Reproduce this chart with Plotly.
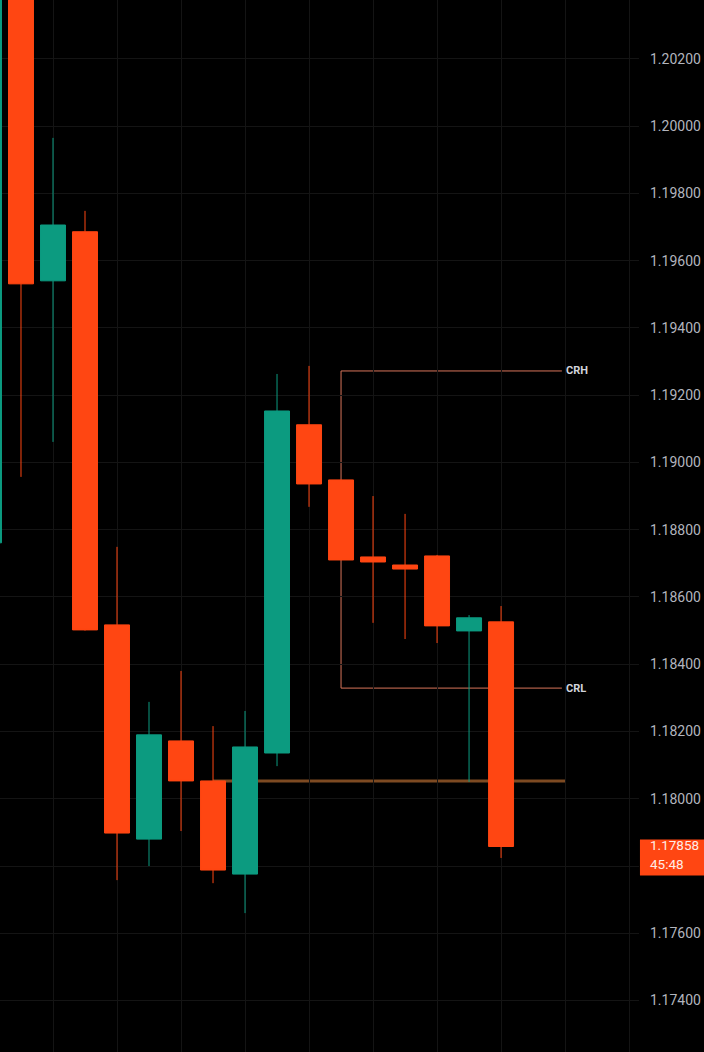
import plotly.graph_objects as go

# ---- data ----
idx   = [-1, 0, 1, 2, 3, 4, 5, 6, 7, 8, 9, 10, 11, 12, 13, 14, 15]
opens = [1.18761, 1.20600, 1.19540, 1.19686, 1.18517, 1.17880, 1.18172, 1.18053, 1.17776,
         1.18136, 1.19112, 1.18948, 1.18719, 1.18695, 1.18722, 1.18499, 1.18526]
highs = [1.20550, 1.20650, 1.19965, 1.19748, 1.18749, 1.18288, 1.18380, 1.18216, 1.18261,
         1.19263, 1.19287, 1.18948, 1.18900, 1.18847, 1.18725, 1.18546, 1.18573]
lows  = [1.18761, 1.18957, 1.19061, 1.18500, 1.17758, 1.17800, 1.17904, 1.17749, 1.17660,
         1.18097, 1.18868, 1.18710, 1.18523, 1.18475, 1.18463, 1.18050, 1.17824]
closes= [1.20500, 1.19531, 1.19706, 1.18502, 1.17898, 1.18190, 1.18053, 1.17788, 1.18154,
         1.19153, 1.18936, 1.18710, 1.18704, 1.18683, 1.18514, 1.18538, 1.17858]

tick_vals = [1.174, 1.176, 1.178, 1.180, 1.182, 1.184, 1.186, 1.188, 1.190,
             1.192, 1.194, 1.196, 1.198, 1.200, 1.202]
# the 1.17800 label is hidden behind the last-price tag in the reference
tick_text = ["" if abs(v - 1.178) < 1e-9 else f"{v:.5f}" for v in tick_vals]

crh_level = 1.19272
crl_level = 1.18329
box_start, box_end = 10, 16.9
hline_level = 1.18053
hline_start, hline_end = 6, 17
last_price = "1.17858"
countdown = "45:48"

RED = "#ff4612"
GREEN = "#0c9b80"

fig = go.Figure()
fig.add_trace(go.Candlestick(
    x=idx, open=opens, high=highs, low=lows, close=closes,
    increasing=dict(line=dict(color=GREEN, width=1), fillcolor=GREEN),
    decreasing=dict(line=dict(color=RED, width=1), fillcolor=RED),
    whiskerwidth=0, showlegend=False, hoverinfo="skip",
))

line_col = "#d8755a"
fig.add_shape(type="line", x0=box_start, x1=box_end, y0=crh_level, y1=crh_level,
              line=dict(color=line_col, width=1), layer="below")
fig.add_shape(type="line", x0=box_start, x1=box_start, y0=crh_level, y1=crl_level,
              line=dict(color=line_col, width=1), layer="below")
fig.add_shape(type="line", x0=box_start, x1=box_end, y0=crl_level, y1=crl_level,
              line=dict(color=line_col, width=1), layer="below")
fig.add_shape(type="line", x0=hline_start, x1=hline_end, y0=hline_level, y1=hline_level,
              line=dict(color="#7d4a22", width=3), layer="below")

for lbl, lvl in [("CRH", crh_level), ("CRL", crl_level)]:
    fig.add_annotation(x=box_end, y=lvl, text=f"<b>{lbl}</b>", showarrow=False,
                       xanchor="left", yanchor="middle", xshift=2,
                       font=dict(family="Roboto", size=11, color="#d1d4dc"))

# last-price tag on the right axis
fig.add_shape(type="rect", xref="paper", yref="y", x0=1.0015, x1=1.11,
              y0=1.17853 - 0.00081, y1=1.17853 + 0.00026,
              fillcolor=RED, line=dict(width=0), layer="above")
fig.add_annotation(xref="paper", x=1, y=1.17858, xanchor="left", yanchor="middle",
                   xshift=10, yshift=1.5, text=last_price, showarrow=False, align="left",
                   borderpad=0, font=dict(family="Roboto", size=13.5, color="#ffece6"))
fig.add_annotation(xref="paper", x=1, y=1.17858, xanchor="left", yanchor="middle",
                   xshift=10, yshift=-17, text=countdown, showarrow=False, align="left",
                   borderpad=0, font=dict(family="Roboto", size=13.5, color="#ffece6"))

fig.update_layout(
    width=704, height=1052,
    margin=dict(l=0, r=65, t=0, b=0),
    paper_bgcolor="#000000", plot_bgcolor="#000000",
    boxgap=0.22, boxgroupgap=0,
    xaxis=dict(range=[-0.656, 19.31], rangeslider=dict(visible=False),
               tickvals=list(range(1, 20, 2)), showticklabels=False,
               showgrid=True, gridcolor="#141414", gridwidth=1, zeroline=False,
               showline=False, ticks=""),
    yaxis=dict(range=[1.17247, 1.20375], side="right", tickvals=tick_vals,
               ticktext=tick_text, showgrid=True, gridcolor="#141414", gridwidth=1,
               zeroline=False, showline=False, ticks="", ticklabelstandoff=10,
               tickfont=dict(family="Roboto", size=14, color="#b2b5be")),
    font=dict(family="Roboto"),
)

fig.write_html("out.html")
